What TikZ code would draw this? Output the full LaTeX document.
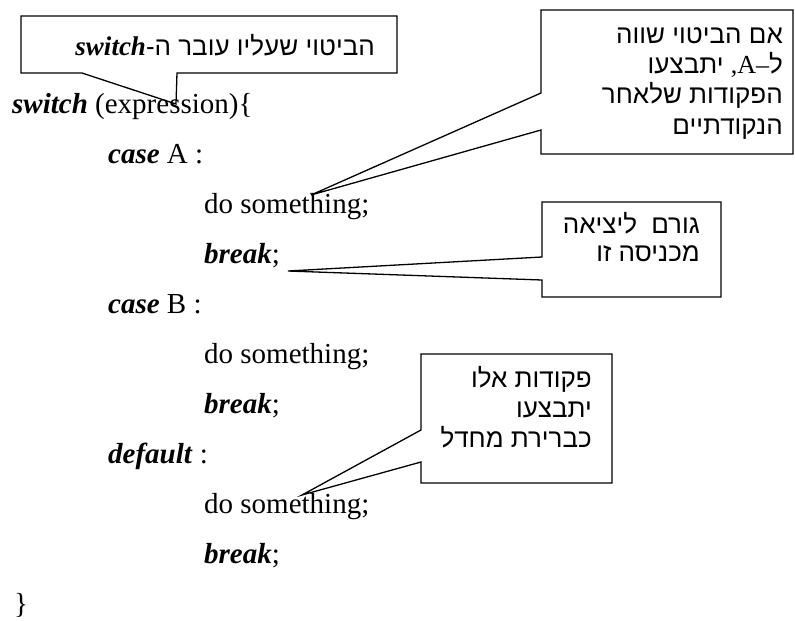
\documentclass[tikz,border=0pt]{standalone}
\usepackage{fontspec}
\setmainfont{Liberation Serif}
\newfontfamily\hebfont[Script=Hebrew]{Liberation Sans}
\TeXXeTstate=1
\newcommand{\kw}[1]{\textbf{\textit{#1}}}
% one justified right-to-left line of a given width
\newcommand{\jline}[2]{\hbox to #1{\beginR #2\endR}}

\begin{document}
\begin{tikzpicture}[
      x=1pt, y=-1pt,
      code/.style={anchor=base west, inner sep=0pt, font=\fontsize{29}{30}\selectfont},
      note/.style={anchor=base east, inner sep=0pt, align=right, font=\hebfont\fontsize{26}{30.3}\selectfont},
      callout/.style={draw=black, line width=1.3pt, line join=miter},
    ]
    \useasboundingbox (0,0) rectangle (795,621);
    % switch block
    \node [code] (switch) at (12,113) {\kw{switch} (expression)\{};
    \node [code] (caseA) at (108,163) {\kw{case} A :};
    \node [code] (doA) at (204,213) {do something;};
    \node [code] (breakA) at (204,263) {\kw{break};};
    \node [code] (caseB) at (108,313) {\kw{case} B :};
    \node [code] (doB) at (204,363) {do something;};
    \node [code] (breakB) at (204,413) {\kw{break};};
    \node [code] (default) at (108,463) {\kw{default} :};
    \node [code] (doD) at (204,513) {do something;};
    \node [code] (breakD) at (204,563) {\kw{break};};
    \node [code] (close) at (14,613) {\}};
    % callout tips
    \coordinate (tipExpr) at (176,104);
    \coordinate (tipA) at (311,195);
    \coordinate (tipBreak) at (288,271);
    \coordinate (tipDefault) at (302,495);
    % callouts
    \draw [callout] (21,16) -- (397,16) -- (397,73) -- (177,73) -- (tipExpr) -- (82,73) -- (21,73) -- cycle;
    \draw [callout] (541,10) -- (793,10) -- (793,154) -- (541,154) -- (541,130) -- (tipA) -- (541,93) -- cycle;
    \draw [callout] (542,202) -- (721,202) -- (721,297) -- (542,297) -- (542,280) -- (tipBreak) -- (542,257) -- cycle;
    \draw [callout] (421,354) -- (612,354) -- (612,483) -- (421,483) -- (421,462) -- (tipDefault) -- (421,430) -- cycle;
    % callout texts (base = last line)
    \node [note] (noteExpr) at (375,55)
      {\beginR הביטוי שעליו עובר ה-\beginL{\rmfamily\fontsize{27}{28}\selectfont\kw{switch}}\endL\endR};
    \node [note] (noteA) at (783,134)
      {\beginR אם הביטוי שווה\endR\\
       \beginR ל\kern0pt{\rmfamily –}\kern0pt{\rmfamily A}\kern0pt{\rmfamily ,} יתבצעו\endR\hspace{7pt}\\
       \beginR הפקודות שלאחר\endR\\
       \beginR הנקודתיים\endR};
    \node [note, font=\hebfont\fontsize{26}{28}\selectfont] (noteBreak) at (700,261)
      {\jline{137pt}{גורם\hfill ליציאה}\\
       \beginR מכניסה זו\endR};
    \node [note, font=\hebfont\fontsize{26}{30}\selectfont] (noteDefault) at (592,447)
      {\beginR פקודות אלו\endR\\
       \beginR יתבצעו\endR\\
       \beginR כברירת מחדל\endR};
  \end{tikzpicture}
\end{document}
